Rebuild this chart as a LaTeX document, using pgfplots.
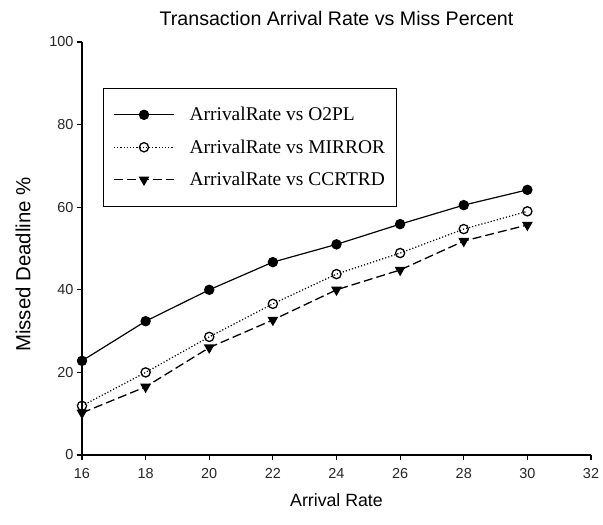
\documentclass[border=0pt]{standalone}
\usepackage{pgfplots}
\pgfplotsset{compat=1.18}
\usepackage{fontspec}
\setmainfont{Liberation Sans}
\newfontfamily\legfont{Liberation Serif}
\begin{document}
\begin{tikzpicture}
\begin{axis}[
  scale only axis,
  width=509bp, height=413bp,
  xmin=16, xmax=32, ymin=0, ymax=100,
  xtick={16,18,...,32}, ytick={0,20,...,100},
  axis lines*=left,
  axis line style={line width=1.1pt},
  tick style={line width=1.1pt, black},
  tick align=outside,
  major tick length=5bp,
  /pgf/number format/assume math mode=true,
  ticklabel style={font=\fontsize{14.5}{16}\selectfont, text=black!85},
  xticklabel style={yshift=-5bp},
  title={Transaction Arrival Rate vs Miss Percent},
  title style={font=\fontsize{19.7}{23}\selectfont, yshift=7bp},
  xlabel={Arrival Rate},
  ylabel={Missed Deadline \%},
  xlabel style={font=\fontsize{17.8}{20}\selectfont, yshift=-8bp},
  ylabel style={font=\fontsize{20.5}{23}\selectfont, yshift=12bp, xshift=-16bp},
  legend cell align=left,
  legend style={at={(0.041,0.889)}, anchor=north west, draw=black, line width=1pt,
    font=\legfont\fontsize{19.5}{22}\selectfont, row sep=13.5bp,
    inner xsep=10bp, inner ysep=17bp,
    /tikz/every odd column/.append style={column sep=13bp}},
  legend image code/.code={\draw[mark repeat=2,mark phase=2,#1] plot coordinates {(0bp,0bp) (30bp,0bp) (60bp,0bp)};},
]
\addplot[black, line width=1.2pt, mark=*, mark size=4.6bp, mark options={solid}] coordinates {
(16,22.8) (18,32.4) (20,40.0) (22,46.7) (24,51.0) (26,55.9) (28,60.5) (30,64.2)};
\addlegendentry{ArrivalRate vs O2PL}
\addplot[black, line width=1.2pt, dotted, mark=o, mark size=4.6bp, mark options={solid, fill=white, line width=1.3pt}] coordinates {
(16,11.9) (18,20.0) (20,28.6) (22,36.6) (24,43.8) (26,48.9) (28,54.7) (30,59.0)};
\addlegendentry{ArrivalRate vs MIRROR}
\addplot[black, line width=1.3pt, dash pattern=on 9bp off 4bp, mark=triangle*, mark size=5bp, mark options={solid, rotate=180}] coordinates {
(16,10.2) (18,16.5) (20,26.0) (22,32.7) (24,40.0) (26,44.8) (28,51.8) (30,55.7)};
\addlegendentry{ArrivalRate vs CCRTRD}
\end{axis}
\path ([xshift=-82bp,yshift=-70bp]current axis.south west) rectangle ([xshift=12bp,yshift=42bp]current axis.north east);
\end{tikzpicture}
\end{document}
